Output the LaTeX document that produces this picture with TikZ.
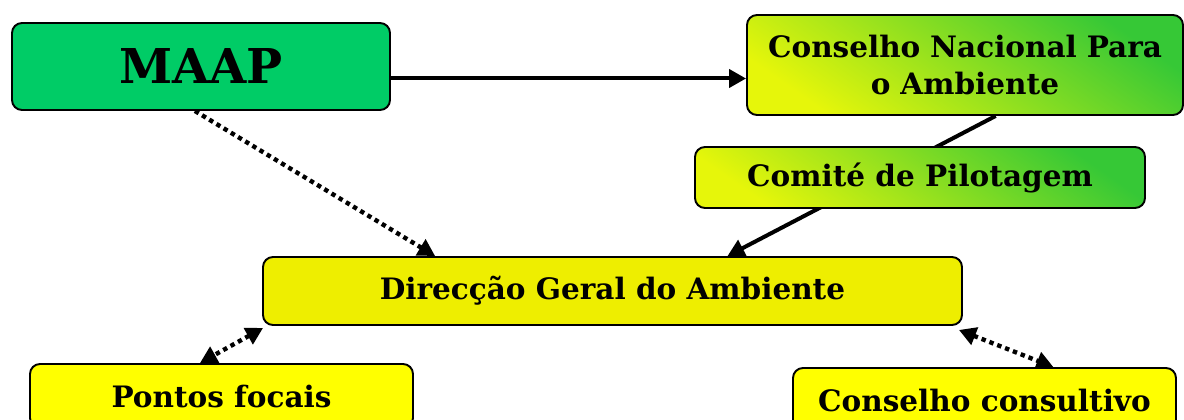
\documentclass[tikz,border=0pt]{standalone}
\usepackage{fontspec}
\setmainfont{DejaVu Serif}
\usetikzlibrary{arrows.meta,calc}
\pgfdeclarelayer{bg}
\pgfsetlayers{bg,main}
\definecolor{maapgreen}{HTML}{00CC66}
\definecolor{dgayellow}{HTML}{EEEE00}
\definecolor{boxyellow}{HTML}{FFFF00}
\definecolor{gradyellow}{HTML}{E6F60A}
\definecolor{gradgreen}{HTML}{36C836}
\tikzset{
  box/.style={draw=black, line width=1.9pt, rounded corners=10pt, align=center,
    font=\bfseries\fontsize{29.5}{37}\selectfont, inner sep=0pt},
  gradbox/.style={box, top color=gradgreen, bottom color=gradyellow, shading angle=-35},
  tip/.tip={Triangle[length=17pt,width=18pt]},
  link/.style={line width=4pt, -tip},
  dotlink/.style={line width=4.4pt, dash pattern=on 4.4pt off 4pt, tip-tip},
  dotone/.style={line width=4.4pt, dash pattern=on 4.4pt off 4pt, -tip},
}
\begin{document}
\begin{tikzpicture}[x=1pt,y=-1pt]
\useasboundingbox (0,0) rectangle (1184,420);
\begin{scope}
\clip (0,0) rectangle (1184,420);
\node[box, fill=maapgreen, minimum width=378pt, minimum height=87pt,
  font=\bfseries\fontsize{48}{50}\selectfont] (maap) at (201,66.5) {MAAP};
\node[gradbox, minimum width=436pt, minimum height=100pt, text width=430pt] (cna) at (965,65)
  {Conselho Nacional Para\\o Ambiente};
\node[gradbox, minimum width=450pt, minimum height=61pt] (cdp) at (920,177.5) {Comité de Pilotagem};
\node[box, fill=dgayellow, minimum width=699pt, minimum height=68pt] (dga) at (612.5,291) {Direcção Geral do Ambiente};
\node[box, fill=boxyellow, minimum width=383pt, minimum height=64pt] (pf) at (221.5,396) {Pontos focais};
\node[box, fill=boxyellow, minimum width=383pt, minimum height=64pt] (cc) at (984.5,400) {Conselho consultivo};
\end{scope}
\coordinate (m1) at ([yshift=-12pt]maap.east);
\begin{pgfonlayer}{bg}
\draw[link] ([xshift=-5pt]m1) -- (m1 -| cna.west);
\draw[link] ($(cna.south west)!0.57!(cna.south east)$) -- ($(dga.north west)!0.664!(dga.north east)$);
\draw[dotone] ($(maap.south west)!0.484!(maap.south east)$) -- ($(dga.north west)!0.247!(dga.north east)$);
\draw[dotlink] ([shift={(1pt,-2pt)}]dga.south west) -- ($(pf.north west)!0.444!(pf.north east)$);
\draw[dotlink] ([shift={(-4pt,-4pt)}]dga.south east) -- ($(cc.north west)!0.679!(cc.north east)$);
\end{pgfonlayer}
\end{tikzpicture}
\end{document}
